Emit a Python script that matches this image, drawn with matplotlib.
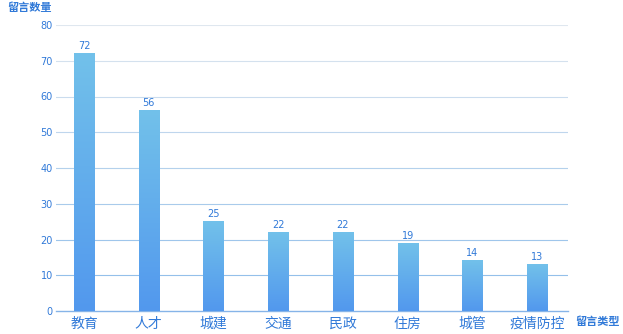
import numpy as np
import matplotlib.pyplot as plt
from matplotlib.colors import LinearSegmentedColormap, to_rgb

plt.rcParams['font.family'] = ['Noto Sans CJK SC', 'DejaVu Sans']

categories = ['教育', '人才', '城建', '交通', '民政', '住房', '城管', '疫情防控']
counts = [72, 56, 25, 22, 22, 19, 14, 13]

blue_text = '#3079d8'
cmap = LinearSegmentedColormap.from_list('bar', ['#5298ee', '#72c1ea'])

fig = plt.figure(figsize=(6.23, 3.34), dpi=100)
ax = fig.add_axes([56 / 623, 23 / 334, 512 / 623, 286 / 334])

x = np.arange(len(categories))
width = 0.31
grad = np.linspace(0, 1, 256).reshape(-1, 1)
for xi, v in zip(x, counts):
    ax.imshow(grad, cmap=cmap, origin='lower', aspect='auto',
              extent=(xi - width / 2, xi + width / 2, 0, v), zorder=3)
    ax.text(xi, v + 0.7, str(v), ha='center', va='bottom', fontsize=7,
            color=blue_text, family='DejaVu Sans')

ax.set_xlim(-0.433, 7.479)
ax.set_ylim(0, 80)
ax.set_yticks(range(0, 81, 10))

# gridlines fade from light grey at the top to blue near the base
top_c = np.array(to_rgb('#dfe7ef'))
low_c = np.array(to_rgb('#94c0ea'))
for lvl in range(10, 81, 10):
    t = (lvl - 10) / 70
    ax.axhline(lvl, color=tuple(low_c * (1 - t) + top_c * t), linewidth=0.8, zorder=1)

for s in ['top', 'right', 'left']:
    ax.spines[s].set_visible(False)
ax.spines['bottom'].set_color('#86b4e8')
ax.spines['bottom'].set_linewidth(1)

ax.set_xticks(x)
ax.set_xticklabels(categories, fontsize=10, color=blue_text)
ax.tick_params(axis='x', length=0, pad=4)
ax.tick_params(axis='y', length=0, pad=2.2, labelsize=7, labelcolor=blue_text)
for lbl in ax.get_yticklabels():
    lbl.set_family('DejaVu Sans')

fig.text(7 / 623, 1 - 8 / 334, '留言数量', fontsize=8, color=blue_text,
         weight='bold', va='center', ha='left')
fig.text(575 / 623, 1 - 321 / 334, '留言类型', fontsize=8, color=blue_text,
         weight='bold', va='center', ha='left')

fig.savefig('out.png', dpi=100)
